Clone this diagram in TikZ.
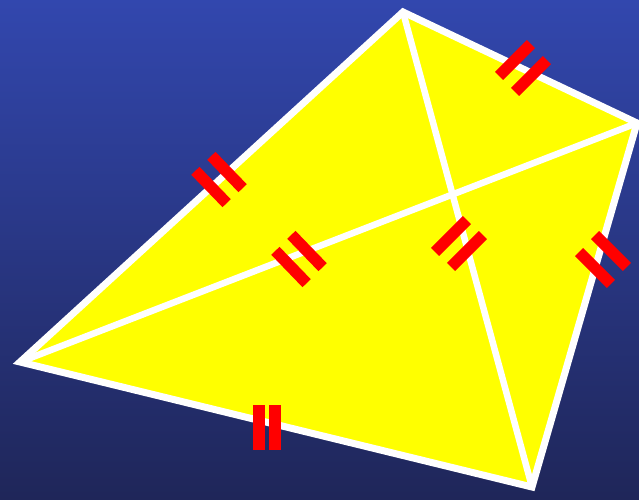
\documentclass[tikz,border=0pt]{standalone}
\usepackage{tikz}
\definecolor{bgTop}{HTML}{3247AE}
\definecolor{bgMid}{HTML}{293886}
\definecolor{bgBot}{HTML}{1F2659}
\definecolor{quadY}{HTML}{FFFF00}
\definecolor{tickR}{HTML}{FF0000}
\tikzset{
  edge/.style={draw=white, line width=7pt, line join=miter, miter limit=20},
  diag/.style={draw=white, line width=6.5pt},
  tickbar/.style={
    fill=tickR, rectangle, inner sep=0pt,
    minimum width=45pt, minimum height=11.5pt, rotate=#1
  }
}

\begin{document}
\begin{tikzpicture}[x=1pt, y=-1pt]
  \useasboundingbox (0,0) rectangle (639,499);
  \shade[top color=bgTop, middle color=bgMid, bottom color=bgBot]
    (0,0) rectangle (639,499);

  % corners of the quadrilateral
  \coordinate (top) at (403,12);
  \coordinate (right) at (637,123);
  \coordinate (bot) at (532,487);
  \coordinate (left) at (20,362);

  \fill[quadY] (top) -- (right) -- (bot) -- (left) -- cycle;
  \draw[diag] (top) -- (bot);
  \draw[diag] (left) -- (right);
  \draw[edge] (top) -- (right) -- (bot) -- (left) -- cycle;

  % equal-length marks
  \node[tickbar=45] (tr1) at (515,60) {};
  \node[tickbar=45] (tr2) at (531,76) {};
  \node[tickbar=-46] (tl1) at (211,187) {};
  \node[tickbar=-46] (tl2) at (227,172) {};
  \node[tickbar=-46] (lr1) at (291,267) {};
  \node[tickbar=-46] (lr2) at (307,251) {};
  \node[tickbar=45] (tb1) at (451,236) {};
  \node[tickbar=45] (tb2) at (467,251) {};
  \node[tickbar=-45] (rt1) at (595,268) {};
  \node[tickbar=-45] (rt2) at (611,251) {};
  \node[tickbar=90] (bt1) at (259,427.5) {};
  \node[tickbar=90] (bt2) at (275,427.5) {};
\end{tikzpicture}
\end{document}
